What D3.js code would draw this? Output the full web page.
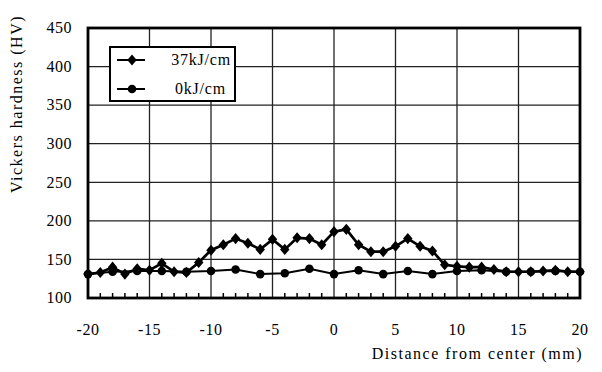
<!DOCTYPE html>
<html>
<head>
<meta charset="utf-8">
<script src="https://cdn.jsdelivr.net/npm/d3@7"></script>
<style>
  body { margin: 0; background: #fff; }
  svg text { font-family: "Liberation Serif", "Times New Roman", Times, "DejaVu Serif", serif; fill: #000; }
</style>
</head>
<body>
<script>
// chart size
const width = 602,
height = 372;

// data
// 37kJ/cm measured every 1 mm
const xHeat = d3.range(-20, 21, 1);
const hvHeat = [131, 133, 140, 131, 138, 136, 145, 134, 133, 146,
	162, 169, 177, 171, 163, 176, 163, 178, 177, 169,
	186, 189, 169, 160, 160, 167, 177, 167, 161, 143,
	141, 140, 140, 137, 134, 134, 134, 135, 136, 134, 134];
// 0kJ/cm measured every 2 mm
const xBase = d3.range(-20, 21, 2);
const hvBase = [131, 134, 135, 135, 134, 135, 137, 131, 132, 138,
	131, 136, 131, 135, 131, 135, 136, 134, 134, 135, 134];

const xTicks = [-20, -15, -10, -5, 0, 5, 10, 15, 20];
const yTicks = [100, 150, 200, 250, 300, 350, 400, 450];
const seriesNames = ["37kJ/cm", "0kJ/cm"];

// scales
let xScale = d3.scaleLinear()
	.domain([-20, 20])
	.range([88, 580]);

let yScale = d3.scaleLinear()
	.domain([100, 450])
	.range([298, 28]);

let svg = d3.select("body")
	.append("svg")
	.attr("width", width)
	.attr("height", height);

// grid lines
svg.append("g")
	.selectAll("line")
	.data(yTicks.slice(1, -1))
	.enter()
	.append("line")
	.attr("x1", xScale(-20))
	.attr("x2", xScale(20))
	.attr("y1", d => yScale(d))
	.attr("y2", d => yScale(d))
	.attr("stroke", "#222")
	.attr("stroke-width", 1.3);

svg.append("g")
	.selectAll("line")
	.data(xTicks.slice(1, -1))
	.enter()
	.append("line")
	.attr("x1", d => xScale(d))
	.attr("x2", d => xScale(d))
	.attr("y1", yScale(100))
	.attr("y2", yScale(450))
	.attr("stroke", "#222")
	.attr("stroke-width", 1.3);

// minor ticks on the bottom axis, pointing up
svg.append("g")
	.selectAll("line")
	.data(d3.range(-19, 20).filter(d => d % 5 != 0))
	.enter()
	.append("line")
	.attr("x1", d => xScale(d))
	.attr("x2", d => xScale(d))
	.attr("y1", yScale(100))
	.attr("y2", yScale(100) - 5)
	.attr("stroke", "#000")
	.attr("stroke-width", 1.5);

// frame
svg.append("rect")
	.attr("x", xScale(-20))
	.attr("y", yScale(450))
	.attr("width", xScale(20) - xScale(-20))
	.attr("height", yScale(100) - yScale(450))
	.attr("fill", "none")
	.attr("stroke", "#000")
	.attr("stroke-width", 2.8);

// tick labels
svg.append("g")
	.selectAll("text")
	.data(yTicks)
	.enter()
	.append("text")
	.attr("x", 72)
	.attr("y", d => yScale(d))
	.attr("dy", "0.33em")
	.attr("text-anchor", "end")
	.attr("font-size", 16)
	.attr("letter-spacing", 0.5)
	.text(d => d);

svg.append("g")
	.selectAll("text")
	.data(xTicks)
	.enter()
	.append("text")
	.attr("x", d => xScale(d))
	.attr("y", 335)
	.attr("text-anchor", "middle")
	.attr("font-size", 16)
	.attr("letter-spacing", 0.5)
	.text(d => d);

// axis titles
svg.append("text")
	.attr("x", 583)
	.attr("y", 359)
	.attr("text-anchor", "end")
	.attr("font-size", 16)
	.attr("letter-spacing", 1.5)
	.text("Distance from center (mm)");

svg.append("text")
	.attr("transform", "translate(22,104) rotate(-90)")
	.attr("text-anchor", "middle")
	.attr("font-size", 16)
	.attr("letter-spacing", 1.5)
	.text("Vickers hardness (HV)");

// lines
let line = d3.line()
	.x(d => xScale(d[0]))
	.y(d => yScale(d[1]));

const heatPts = xHeat.map((x, i) => [x, hvHeat[i]]);
const basePts = xBase.map((x, i) => [x, hvBase[i]]);

svg.append("path")
	.datum(basePts)
	.attr("d", line)
	.attr("fill", "none")
	.attr("stroke", "#000")
	.attr("stroke-width", 2);

svg.append("g")
	.selectAll("circle")
	.data(basePts)
	.enter()
	.append("circle")
	.attr("cx", d => xScale(d[0]))
	.attr("cy", d => yScale(d[1]))
	.attr("r", 4.3)
	.attr("fill", "#000");

svg.append("path")
	.datum(heatPts)
	.attr("d", line)
	.attr("fill", "none")
	.attr("stroke", "#000")
	.attr("stroke-width", 2.7);

// rhombus marker, a bit taller than wide
const rhombus = {
	draw(ctx, size) {
		let h = Math.sqrt(size) * 0.62, w = h * 0.85;
		ctx.moveTo(0, -h);
		ctx.lineTo(w, 0);
		ctx.lineTo(0, h);
		ctx.lineTo(-w, 0);
		ctx.closePath();
	}
};
let diamond = d3.symbol().type(rhombus).size(80);

svg.append("g")
	.selectAll("path")
	.data(heatPts)
	.enter()
	.append("path")
	.attr("d", diamond)
	.attr("transform", d => "translate(" + xScale(d[0]) + "," + yScale(d[1]) + ")")
	.attr("fill", "#000");

// legend
let legend = svg.append("g");

legend.append("rect")
	.attr("x", 110)
	.attr("y", 47)
	.attr("width", 125)
	.attr("height", 54)
	.attr("fill", "#fff")
	.attr("stroke", "#000")
	.attr("stroke-width", 2);

const legendY = [60, 89];

seriesNames.forEach((name, i) => {
	legend.append("line")
		.attr("x1", 117)
		.attr("x2", 145)
		.attr("y1", legendY[i])
		.attr("y2", legendY[i])
		.attr("stroke", "#000")
		.attr("stroke-width", 2);
	if (i == 0) {
		legend.append("path")
			.attr("d", diamond)
			.attr("transform", "translate(132," + legendY[i] + ")")
			.attr("fill", "#000");
	} else {
		legend.append("circle")
			.attr("cx", 132)
			.attr("cy", legendY[i])
			.attr("r", 4.3)
			.attr("fill", "#000");
	}
	legend.append("text")
		.attr("x", i == 0 ? 231 : 226)
		.attr("y", legendY[i])
		.attr("dy", "0.33em")
		.attr("text-anchor", "end")
		.attr("font-size", 16)
		.attr("letter-spacing", 0.8)
		.text(name);
});
</script>
</body>
</html>
